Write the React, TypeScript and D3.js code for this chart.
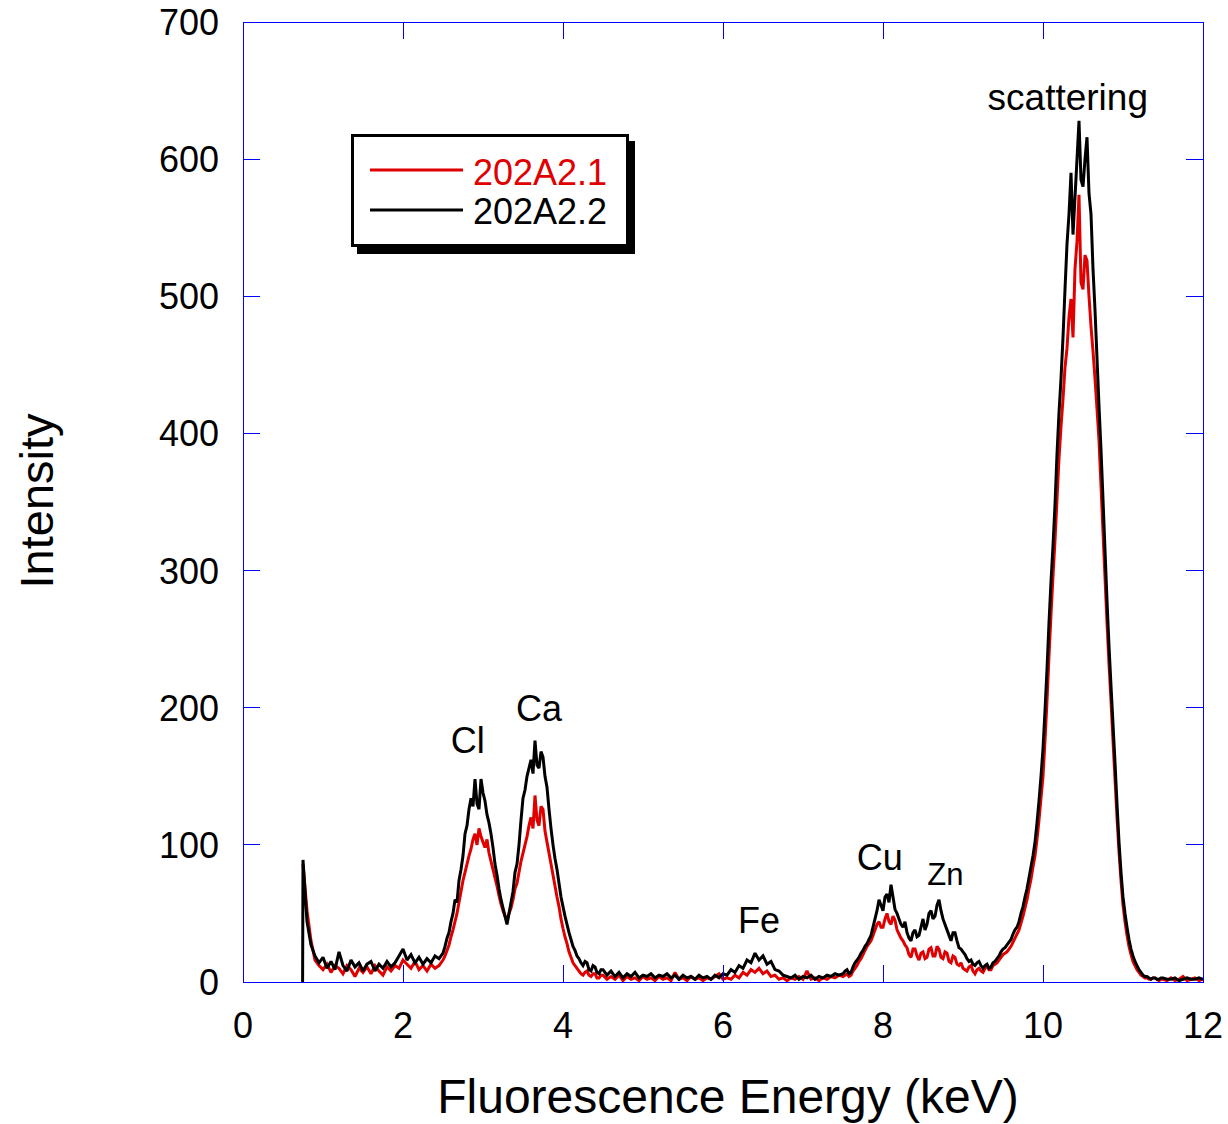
import React from 'react';
import * as d3 from 'd3';

// Energy at which each block of counts begins (keV) and its channel spacing (keV)
const segmentStarts = [0.75, 2.5, 4.5, 7.5, 9.5, 11.5];
const segmentSteps = [0.05, 0.025, 0.05, 0.025, 0.025, 0.05];

// 202A2.1 counts
const redLow = [86, 52, 30, 16, 12, 9, 13, 7, 12, 10, 6, 12, 9, 4, 10, 7, 11, 6, 12, 8, 5, 11, 8, 12, 10, 16, 13, 10, 15, 9, 12, 8, 13, 10, 12];
const redClCa = [
  16, 19, 23, 27, 33, 38, 44, 50, 58, 66,
  74, 80, 86, 92, 97, 104, 108, 100, 112, 106,
  102, 98, 104, 94, 88, 82, 76, 70, 63, 57,
  52, 48, 45, 50, 54, 60, 68, 72, 80, 88,
  94, 100, 106, 114, 120, 112, 136, 118, 114, 128,
  126, 110, 102, 94, 86, 78, 70, 62, 55, 46,
  39, 33, 28, 22, 18, 14, 12, 10, 8, 6,
  5, 7, 8, 5, 4, 6, 6, 3, 3, 5,
];
const redMid = [5, 2, 4, 2, 5, 1, 4, 2, 3, 1, 4, 2, 3, 1, 4, 2, 3, 1, 7, 2, 3, 1, 4, 2, 3, 1, 3, 2, 4, 6, 2, 3, 2, 5, 3, 7, 5, 9, 7, 10, 6, 8, 4, 5, 2, 3, 1, 3, 2, 4, 2, 8, 2, 3, 1, 3, 2, 4, 3, 5];
const redCuZn = [
  4, 5, 6, 4, 5, 8, 10, 12, 15, 17,
  20, 23, 26, 28, 30, 34, 38, 42, 44, 40,
  40, 46, 50, 44, 42, 48, 45, 38, 35, 32,
  30, 27, 25, 20, 18, 24, 24, 19, 16, 21,
  22, 17, 18, 24, 25, 19, 19, 26, 24, 18,
  17, 22, 21, 15, 14, 19, 18, 13, 12, 14,
  10, 9, 8, 11, 12, 8, 6, 9, 10, 8,
  7, 10, 12, 9, 9, 12, 13, 14, 16, 18,
];
const redScatter = [
  20, 21, 22, 24, 26, 29, 32, 35, 38, 43,
  48, 54, 60, 68, 75, 84, 92, 104, 118, 134,
  150, 176, 205, 238, 268, 296, 322, 352, 382, 405,
  425, 448, 462, 485, 498, 470, 520, 540, 574, 510,
  505, 530, 526, 500, 478, 460, 440, 418, 395, 362,
  328, 295, 262, 232, 205, 176, 148, 120, 95, 74,
  56, 44, 34, 26, 20, 15, 12, 9, 7, 5,
  4, 3, 3, 2, 2, 3, 3, 2, 1, 2,
];
const redTail = [2, 1, 3, 1, 2, 4, 1, 2, 3, 1, 2];

// 202A2.2 counts
const blackOnset: [number, number] = [0.745, 0];
const blackLow = [89, 44, 27, 19, 14, 18, 10, 15, 9, 22, 12, 8, 16, 11, 14, 8, 13, 15, 8, 13, 10, 15, 11, 14, 19, 24, 16, 20, 14, 18, 13, 17, 14, 19, 17];
const blackClCa = [
  21, 26, 32, 36, 44, 50, 60, 58, 74, 82,
  92, 108, 114, 126, 134, 128, 148, 130, 126, 148,
  138, 132, 122, 116, 108, 98, 86, 78, 68, 60,
  54, 48, 42, 50, 58, 66, 80, 86, 100, 118,
  134, 140, 150, 156, 162, 152, 176, 158, 156, 168,
  164, 150, 142, 126, 112, 100, 90, 82, 72, 62,
  55, 48, 42, 36, 31, 26, 23, 19, 17, 14,
  12, 15, 14, 9, 8, 12, 11, 7, 6, 9,
];
const blackMid = [9, 5, 8, 4, 7, 3, 6, 4, 7, 3, 5, 4, 6, 3, 5, 4, 6, 3, 5, 2, 5, 3, 4, 2, 5, 3, 4, 2, 5, 3, 6, 5, 9, 7, 12, 10, 16, 14, 21, 16, 19, 13, 15, 9, 8, 5, 4, 3, 5, 2, 4, 3, 5, 2, 4, 3, 5, 4, 6, 5];
const blackCuZn = [
  6, 8, 9, 6, 7, 11, 14, 16, 18, 21,
  23, 26, 28, 31, 34, 40, 46, 52, 60, 56,
  52, 62, 64, 58, 71, 62, 53, 50, 46, 42,
  40, 44, 36, 32, 30, 36, 38, 33, 34, 40,
  46, 38, 42, 50, 52, 46, 48, 56, 60, 52,
  46, 42, 38, 34, 30, 36, 36, 30, 25, 24,
  22, 20, 17, 15, 16, 13, 12, 14, 15, 12,
  10, 12, 13, 10, 11, 14, 15, 17, 19, 22,
];
const blackScatter = [
  24, 25, 27, 29, 31, 35, 38, 40, 44, 50,
  55, 62, 68, 76, 84, 92, 102, 116, 132, 150,
  170, 198, 228, 262, 292, 318, 348, 385, 415, 440,
  470, 505, 538, 560, 590, 545, 572, 600, 628, 585,
  580, 600, 616, 575, 560, 520, 490, 455, 420, 388,
  352, 315, 278, 245, 216, 188, 160, 130, 102, 80,
  62, 50, 40, 31, 24, 19, 15, 12, 9, 7,
  5, 4, 4, 3, 2, 3, 3, 2, 2, 3,
];
const blackTail = [3, 2, 2, 3, 1, 2, 3, 2, 2, 3, 2];

// Axis ticks
const xTicks = [0, 2, 4, 6, 8, 10, 12];
const yTicks = [0, 100, 200, 300, 400, 500, 600, 700];

// Peak annotations: label, energy (keV), counts at label baseline, font size
const peakLabels = ['Cl', 'Ca', 'Fe', 'Cu', 'Zn', 'scattering'];
const peakEnergies = [2.81, 3.70, 6.45, 7.96, 8.78, 10.31];
const peakLabelLevels = [167, 190, 36, 82, 71, 636];
const peakLabelSizes = [36, 36, 36, 36, 31, 37];

// Legend entries
const seriesNames = ['202A2.1', '202A2.2'];
const seriesColors = ['#e00000', '#000000'];

type Pt = [number, number];

function buildSeries(blocks: number[][], lead: Pt[] = []): Pt[] {
  const pts: Pt[] = [...lead];
  blocks.forEach((block, k) => {
    block.forEach((v, i) => pts.push([segmentStarts[k] + i * segmentSteps[k], v]));
  });
  return pts;
}

const FONT = '"Liberation Sans", Arial, Helvetica, sans-serif';

export default function App() {
  const W = 1228;
  const H = 1124;
  const left = 243, right = 1203, top = 22, bottom = 982;
  const x = d3.scaleLinear().domain([0, 12]).range([left, right]);
  const y = d3.scaleLinear().domain([0, 700]).range([bottom, top]);

  const redPts = buildSeries([redLow, redClCa, redMid, redCuZn, redScatter, redTail]);
  const blackPts = buildSeries([blackLow, blackClCa, blackMid, blackCuZn, blackScatter, blackTail], [blackOnset]);

  const line = d3.line<Pt>().x(d => x(d[0])).y(d => y(d[1]));
  const tickLen = 17;
  const axisColor = '#0000ff';

  return (
    <svg width={W} height={H} style={{ position: 'absolute', left: 0, top: 0, background: '#fff' }} fontFamily={FONT}>
      <rect x={0} y={0} width={W} height={H} fill="#fff" />
      <defs>
        <clipPath id="plotClip">
          <rect x={left} y={top} width={right - left} height={bottom - top} />
        </clipPath>
      </defs>

      {/* spectra */}
      <g clipPath="url(#plotClip)" fill="none" strokeLinejoin="miter" strokeMiterlimit={2}>
        <path d={line(redPts) || ''} stroke={seriesColors[0]} strokeWidth={3} />
        <path d={line(blackPts) || ''} stroke={seriesColors[1]} strokeWidth={3} />
      </g>

      {/* frame and ticks */}
      <g stroke={axisColor} strokeWidth={1} shapeRendering="crispEdges">
        <rect x={left} y={top} width={right - left} height={bottom - top} fill="none" />
        {xTicks.map(t => (
          <g key={'xt' + t}>
            <line x1={x(t)} x2={x(t)} y1={bottom} y2={bottom - tickLen} />
            <line x1={x(t)} x2={x(t)} y1={top} y2={top + tickLen} />
          </g>
        ))}
        {yTicks.map(t => (
          <g key={'yt' + t}>
            <line x1={left} x2={left + tickLen} y1={y(t)} y2={y(t)} />
            <line x1={right} x2={right - tickLen} y1={y(t)} y2={y(t)} />
          </g>
        ))}
      </g>

      {/* tick labels */}
      <g fontSize={36} fill="#000">
        {xTicks.map(t => (
          <text key={'xl' + t} x={x(t)} y={1038} textAnchor="middle">{t}</text>
        ))}
        {yTicks.map(t => (
          <text key={'yl' + t} x={219} y={y(t) + 13} textAnchor="end">{t}</text>
        ))}
      </g>

      {/* axis titles */}
      <text x={728} y={1113} textAnchor="middle" fontSize={48} fill="#000">
        Fluorescence Energy (keV)
      </text>
      <text transform={`translate(53, 501) rotate(-90)`} textAnchor="middle" fontSize={47} fill="#000">
        Intensity
      </text>

      {/* peak annotations */}
      {peakLabels.map((lab, i) => (
        <text key={lab} x={x(peakEnergies[i])} y={y(peakLabelLevels[i])} textAnchor="middle"
          fontSize={peakLabelSizes[i]} fill="#000">
          {lab}
        </text>
      ))}

      {/* legend */}
      <g>
        <rect x={357} y={141} width={278} height={113} fill="#000" />
        <rect x={352.5} y={135.5} width={275} height={110} fill="#fff" stroke="#000" strokeWidth={3} />
        {seriesNames.map((name, i) => (
          <g key={name}>
            <line x1={370} x2={463} y1={170 + i * 40} y2={170 + i * 40} stroke={seriesColors[i]} strokeWidth={3} />
            <text x={473} y={185 + i * 39} fontSize={36} fill={seriesColors[i]}>{name}</text>
          </g>
        ))}
      </g>
    </svg>
  );
}
